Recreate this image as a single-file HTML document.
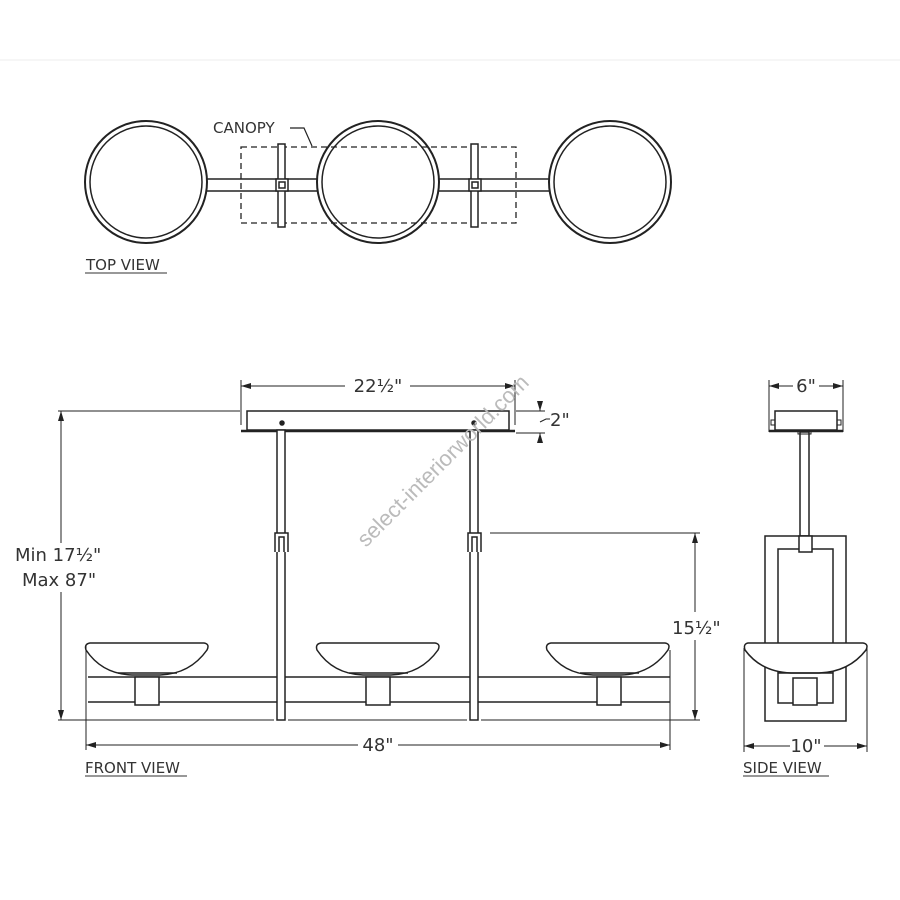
<!DOCTYPE html>
<html><head><style>
html,body{margin:0;padding:0;background:#fff;}
svg{display:block;}
text{font-family:"DejaVu Sans","Liberation Sans",sans-serif;fill:#333;}
</style></head><body>
<svg width="900" height="900" viewBox="0 0 900 900" xmlns="http://www.w3.org/2000/svg">
<defs>
<marker id="a" viewBox="0 0 10 6" refX="10" refY="3" markerWidth="10" markerHeight="6" orient="auto-start-reverse" markerUnits="userSpaceOnUse"><path d="M0,0L10,3L0,6z" fill="#222"/></marker>
</defs>
<line x1="0" y1="60" x2="900" y2="60" stroke="#eee" stroke-width="1"/>
<g stroke="#222" fill="none" stroke-width="1.5">
<!-- TOP VIEW -->
<rect x="241" y="147" width="275" height="76" stroke-dasharray="6,4" stroke-width="1.3"/>
<line x1="207" y1="179" x2="317" y2="179"/><line x1="207" y1="191" x2="317" y2="191"/>
<line x1="439" y1="179" x2="549" y2="179"/><line x1="439" y1="191" x2="549" y2="191"/>
<rect x="278" y="144" width="7" height="83" fill="#fff"/>
<rect x="471" y="144" width="7" height="83" fill="#fff"/>
<rect x="276" y="179" width="12" height="12" fill="#fff"/><rect x="279" y="182" width="6" height="6"/>
<rect x="469" y="179" width="12" height="12" fill="#fff"/><rect x="472" y="182" width="6" height="6"/>
<circle cx="146" cy="182" r="61" stroke-width="2"/><circle cx="146" cy="182" r="56"/>
<circle cx="378" cy="182" r="61" stroke-width="2"/><circle cx="378" cy="182" r="56"/>
<circle cx="610" cy="182" r="61" stroke-width="2"/><circle cx="610" cy="182" r="56"/>
<polyline points="290,128 304,128 312,146" stroke-width="1.2"/>
<line x1="85" y1="273" x2="167" y2="273" stroke="#777"/>

<!-- FRONT VIEW -->
<line x1="241" y1="380" x2="241" y2="425" stroke-width="1"/><line x1="515" y1="380" x2="515" y2="425" stroke-width="1"/>
<line x1="241" y1="386" x2="345" y2="386" stroke-width="1" marker-start="url(#a)"/>
<line x1="410" y1="386" x2="515" y2="386" stroke-width="1" marker-end="url(#a)"/>
<rect x="247" y="411" width="262" height="19"/>
<line x1="241" y1="431" x2="515" y2="431" stroke-width="2.5"/>
<circle cx="282" cy="423" r="2" fill="#222"/><circle cx="474" cy="423" r="2" fill="#222"/>
<!-- 2in -->
<line x1="516" y1="411" x2="545" y2="411" stroke-width="1"/><line x1="516" y1="433" x2="545" y2="433" stroke-width="1"/>
<line x1="540" y1="406" x2="540" y2="411" stroke-width="1" marker-end="url(#a)"/>
<line x1="540" y1="438" x2="540" y2="433" stroke-width="1" marker-end="url(#a)"/>
<polyline points="540,422 546,419 550,419" stroke-width="1"/>
<!-- min/max -->
<line x1="58" y1="411" x2="240" y2="411" stroke-width="1"/>
<line x1="58" y1="720" x2="274" y2="720" stroke-width="1"/>
<line x1="288" y1="720" x2="467" y2="720" stroke-width="1"/>
<line x1="481" y1="720" x2="700" y2="720" stroke-width="1"/>
<line x1="61" y1="411" x2="61" y2="543" stroke-width="1" marker-start="url(#a)"/>
<line x1="61" y1="592" x2="61" y2="720" stroke-width="1" marker-end="url(#a)"/>
<!-- bar -->
<line x1="88" y1="677" x2="670" y2="677"/><line x1="88" y1="702" x2="670" y2="702"/>
<!-- rods -->
<rect x="277" y="430" width="8" height="290" fill="#fff"/>
<rect x="470" y="430" width="8" height="290" fill="#fff"/>
<path d="M275,552V533H288V552M279,552V537H284V552" fill="#fff"/>
<path d="M468,552V533H481V552M472,552V537H477V552" fill="#fff"/>
<!-- bowls -->
<g fill="#fff">
<path d="M90,643H204Q210,644 207,650Q190,674 160,675H132Q102,674 86,650Q84,644 90,643Z"/>
<path d="M321,643H435Q441,644 438,650Q421,674 391,675H363Q333,674 317,650Q315,644 321,643Z"/>
<path d="M551,643H665Q671,644 668,650Q651,674 621,675H593Q563,674 547,650Q545,644 551,643Z"/>
<rect x="135" y="677" width="24" height="28"/><rect x="366" y="677" width="24" height="28"/><rect x="597" y="677" width="24" height="28"/>
</g>
<line x1="118" y1="673" x2="177" y2="673"/><line x1="349" y1="673" x2="408" y2="673"/><line x1="580" y1="673" x2="639" y2="673"/>
<!-- 48 -->
<line x1="86" y1="645" x2="86" y2="750" stroke-width="1"/><line x1="670" y1="650" x2="670" y2="750" stroke-width="1"/>
<line x1="86" y1="745" x2="358" y2="745" stroke-width="1" marker-start="url(#a)"/>
<line x1="398" y1="745" x2="670" y2="745" stroke-width="1" marker-end="url(#a)"/>
<!-- 15.5 -->
<line x1="490" y1="533" x2="700" y2="533" stroke-width="1"/>
<line x1="695" y1="533" x2="695" y2="612" stroke-width="1" marker-start="url(#a)"/>
<line x1="695" y1="640" x2="695" y2="720" stroke-width="1" marker-end="url(#a)"/>
<line x1="85" y1="776" x2="187" y2="776" stroke="#777"/>

<!-- SIDE VIEW -->
<line x1="769" y1="380" x2="769" y2="432" stroke-width="1"/><line x1="843" y1="380" x2="843" y2="432" stroke-width="1"/>
<line x1="769" y1="386" x2="793" y2="386" stroke-width="1" marker-start="url(#a)"/>
<line x1="819" y1="386" x2="843" y2="386" stroke-width="1" marker-end="url(#a)"/>
<rect x="775" y="411" width="62" height="19"/>
<rect x="771" y="420" width="4" height="5" stroke-width="1"/><rect x="837" y="420" width="4" height="5" stroke-width="1"/>
<line x1="769" y1="431" x2="843" y2="431" stroke-width="2.5"/>
<rect x="800" y="432" width="9" height="104"/>
<rect x="798" y="430" width="13" height="4" stroke-width="1"/>
<rect x="765" y="536" width="81" height="185"/>
<rect x="778" y="549" width="55" height="154"/>
<rect x="799" y="536" width="13" height="16" fill="#fff"/>
<path d="M748,643H863Q869,644 866,650Q849,672 819,673H791Q761,672 745,650Q743,644 748,643Z" fill="#fff"/>
<line x1="778" y1="673" x2="833" y2="673"/>
<rect x="793" y="678" width="24" height="27" fill="#fff"/>
<line x1="744" y1="648" x2="744" y2="752" stroke-width="1"/><line x1="867" y1="648" x2="867" y2="752" stroke-width="1"/>
<line x1="744" y1="746" x2="790" y2="746" stroke-width="1" marker-start="url(#a)"/>
<line x1="824" y1="746" x2="867" y2="746" stroke-width="1" marker-end="url(#a)"/>
<line x1="743" y1="776" x2="829" y2="776" stroke="#777"/>
</g>
<g font-size="15">
<text x="213" y="133">CANOPY</text>
<text x="86" y="270" fill="#666">TOP VIEW</text>
<text x="378" y="392" text-anchor="middle" font-size="18">22½"</text>
<text x="550" y="426" font-size="18">2"</text>
<text x="15" y="561" font-size="18">Min 17½"</text>
<text x="22" y="586" font-size="18">Max 87"</text>
<text x="672" y="634" font-size="18">15½"</text>
<text x="378" y="751" text-anchor="middle" font-size="18">48"</text>
<text x="85" y="773" fill="#555">FRONT VIEW</text>
<text x="806" y="392" text-anchor="middle" font-size="18">6"</text>
<text x="806" y="752" text-anchor="middle" font-size="18">10"</text>
<text x="743" y="773" fill="#555">SIDE VIEW</text>
<text x="0" y="0" font-size="22" transform="translate(366,548) rotate(-45)" style="fill:#bbb;font-family:'Liberation Sans',sans-serif">select-interiorworld.com</text>
</g>
</svg>
</body></html>
